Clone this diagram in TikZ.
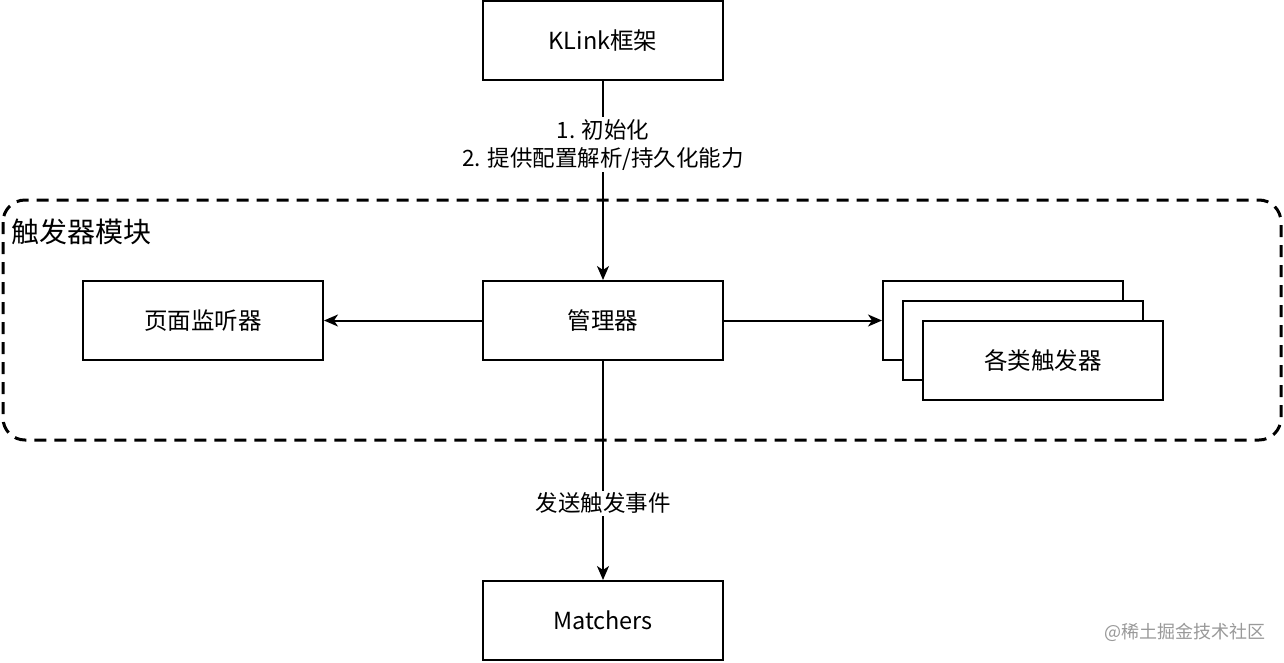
\documentclass[tikz,border=0pt]{standalone}
\usepackage{fontspec}
\setmainfont{Noto Sans CJK SC}
\usetikzlibrary{arrows.meta}
\begin{document}
\begin{tikzpicture}[x=1pt,y=-1pt,
  box/.style={draw=black,line width=2pt,fill=white,minimum width=240pt,minimum height=79pt,inner sep=0pt,font=\fontsize{23.5}{28}\selectfont},
  arr/.style={draw=black,line width=2pt,-{Stealth[length=14pt,width=12pt,inset=4pt]}},
  lbl/.style={fill=white,inner sep=2pt,align=center,font=\fontsize{22.5}{28}\selectfont}]
\useasboundingbox (0,0) rectangle (1284,662);
\fill[white] (0,0) rectangle (1284,662);
% module frame
\draw[line width=3pt,dash pattern=on 12pt off 8pt,rounded corners=22pt] (3,200) rectangle (1281,440);
\node[anchor=west,inner sep=0pt,font=\fontsize{28}{32}\selectfont] (title) at (11,232) {触发器模块};
% boxes
\node[box] (klink) at (603,40.5) {KLink框架};
\node[box] (page) at (203,320.5) {页面监听器};
\node[box] (mgr) at (603,320.5) {管理器};
\node[box] (t1) at (1003,320.5) {};
\node[box] (t2) at (1023,340.5) {};
\node[box] (t3) at (1043,360.5) {各类触发器};
\node[box] (match) at (603,620.5) {Matchers};
% connectors
\draw[arr] (klink.south) -- node[lbl,pos=0.32] (l1) {1. 初始化\\2. 提供配置解析/持久化能力} (mgr.north);
\draw[arr] (mgr.west) -- (page.east);
\draw[arr] (mgr.east) -- (t1.west);
\draw[arr] (mgr.south) -- node[lbl,pos=0.65] (l2) {发送触发事件} (match.north);
% watermark
\node[anchor=east,inner sep=0pt,text=black!40,font=\fontsize{18}{20}\selectfont] (wm) at (1266,632) {@稀土掘金技术社区};
\end{tikzpicture}
\end{document}
